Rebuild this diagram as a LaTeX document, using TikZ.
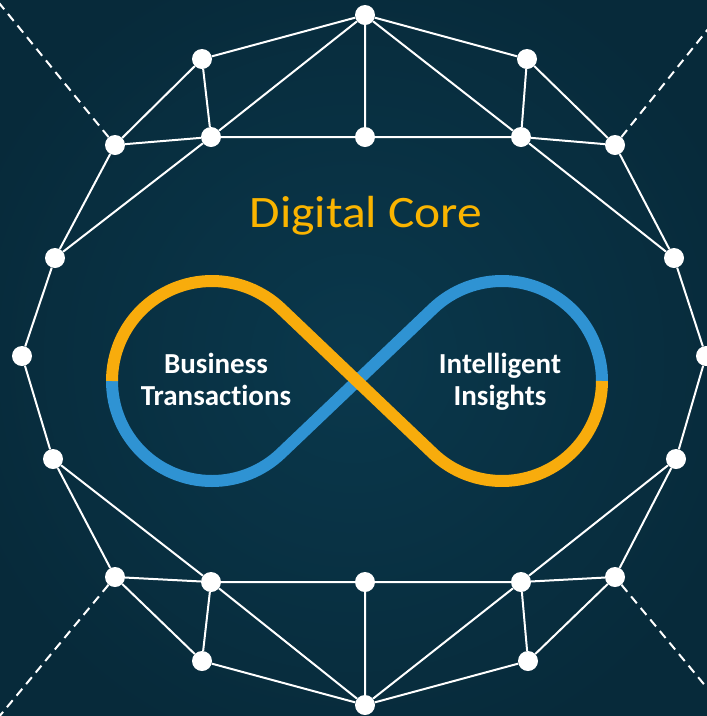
\documentclass[tikz,border=0pt]{standalone}
\usepackage{fontspec}
\setmainfont[Ligatures={NoCommon}]{Carlito}
\usetikzlibrary{shadings}
\definecolor{bgin}{HTML}{0A384C}
\definecolor{bgout}{HTML}{072A3A}
\definecolor{infy}{HTML}{F8AC0C}
\definecolor{infb}{HTML}{2F93D3}
\definecolor{titley}{HTML}{FAB400}
\tikzset{
  dot/.style={circle,fill=white,draw=none,minimum size=20pt,inner sep=0pt},
  edge/.style={draw=white,line width=2pt},
  dashedge/.style={draw=white,line width=2pt,dash pattern=on 9pt off 6pt},
  loop/.style={line width=12pt,line cap=butt,line join=round},
  label/.style={text=white,font=\fontsize{29}{32}\selectfont\bfseries,align=center,anchor=base}
}
\begin{document}
\begin{tikzpicture}[x=1pt,y=-1pt]
\useasboundingbox (0,0) rectangle (707,716);
\clip (0,0) rectangle (707,716);
\shade[inner color=bgin,outer color=bgout] (-60,-60) rectangle (767,776);
% nodes
\node[dot] (T) at (365,15) {};
\node[dot] (A) at (202,59) {};
\node[dot] (A2) at (527,59) {};
\node[dot] (B) at (115,145) {};
\node[dot] (C) at (211,137) {};
\node[dot] (D) at (365,137) {};
\node[dot] (C2) at (521,137) {};
\node[dot] (B2) at (615,145) {};
\node[dot] (E) at (55,258) {};
\node[dot] (E2) at (674,258) {};
\node[dot] (L) at (22,356) {};
\node[dot] (R) at (706,356) {};
\node[dot] (F) at (53,459) {};
\node[dot] (F2) at (676,459) {};
\node[dot] (G) at (115,577) {};
\node[dot] (H) at (211,582) {};
\node[dot] (I) at (365,582) {};
\node[dot] (H2) at (521,582) {};
\node[dot] (G2) at (615,577) {};
\node[dot] (J) at (202,661) {};
\node[dot] (J2) at (528,661) {};
\node[dot] (Bot) at (365,705) {};
\coordinate (dTL) at (-5,-2);
\coordinate (dTR) at (733,-2);
\coordinate (dBL) at (-2,718);
\coordinate (dBR) at (732,718);
% edges
\draw[edge] (T)--(A) (T)--(C) (T)--(D) (T)--(C2) (T)--(A2);
\draw[edge] (A)--(B) (A)--(C) (B)--(C) (C)--(D) (D)--(C2) (A2)--(C2) (A2)--(B2) (C2)--(B2);
\draw[edge] (B)--(E) (C)--(E) (C2)--(E2) (B2)--(E2);
\draw[edge] (E)--(L) (L)--(F) (E2)--(R) (R)--(F2);
\draw[edge] (F)--(G) (F)--(H) (G)--(H) (G)--(J) (H)--(J) (H)--(I) (H)--(Bot) (J)--(Bot) (I)--(Bot);
\draw[edge] (F2)--(G2) (F2)--(H2) (G2)--(H2) (G2)--(J2) (H2)--(J2) (H2)--(I) (H2)--(Bot) (J2)--(Bot);
\draw[dashedge] (B)--(dTL) (B2)--(dTR) (G)--(dBL) (G2)--(dBR);
% infinity
\draw[loop,draw=infb] (112,381) arc[start angle=180,end angle=313.6,radius=100pt] -- (433.03,308.59) arc[start angle=133.6,end angle=0,radius=100pt];
\draw[loop,draw=infy] (112,381) arc[start angle=180,end angle=46.4,radius=100pt] -- (433.03,453.41) arc[start angle=226.4,end angle=360,radius=100pt];
% texts
\node[anchor=base,text=titley,font=\fontsize{45}{50}\selectfont] (title) at (366,227) {\scalebox{1.1}[1]{Digital Core}};
\node[label] (bt1) at (216,373) {Business};
\node[label] (bt2) at (216,405) {Transactions};
\node[label] (ii1) at (500,373) {Intelligent};
\node[label] (ii2) at (500,405) {Insights};
\end{tikzpicture}
\end{document}
